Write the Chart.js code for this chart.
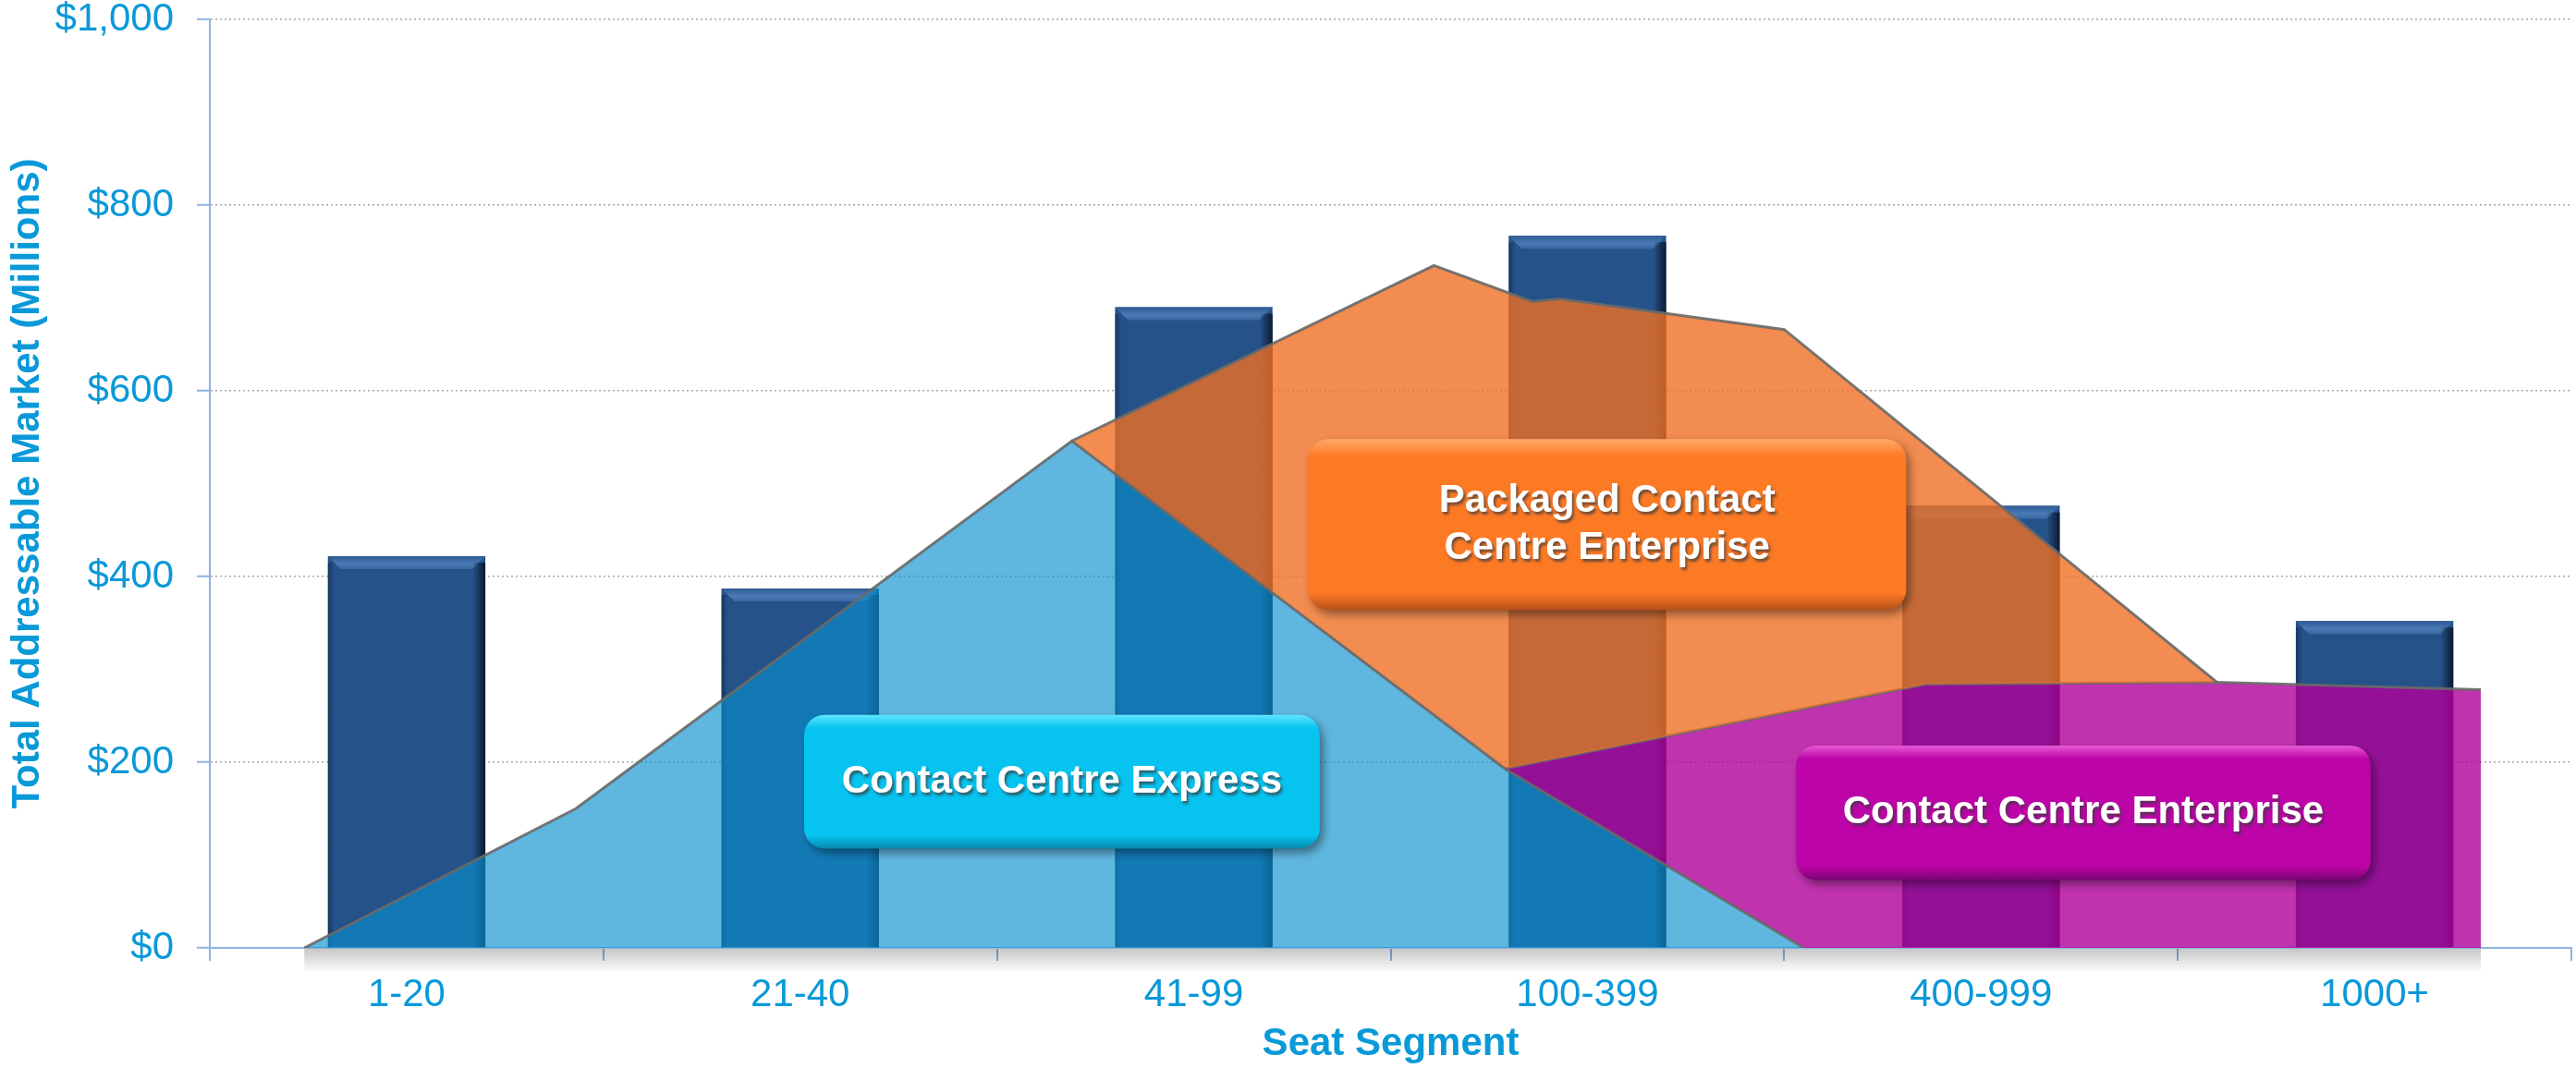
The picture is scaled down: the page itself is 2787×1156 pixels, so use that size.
<!DOCTYPE html>
<html>
<head>
<meta charset="utf-8">
<script src="https://cdn.jsdelivr.net/npm/chart.js@4.4.0/dist/chart.umd.min.js"></script>
<style>
  html, body { margin: 0; padding: 0; background: #fff; }
</style>
</head>
<body>
<canvas id="tam-chart" width="2787" height="1156"></canvas>
<script>
// Seat segments and total addressable market ($M)
const segments = ['1-20', '21-40', '41-99', '100-399', '400-999', '1000+'];
const marketValues = [422, 387, 690, 767, 476, 352];

// Product range outlines, x in segment units (0 = left edge, 6 = right edge), y in $M
const expressX = [0.24, 0.93, 2.19, 3.29, 4.05];
const expressY = [0, 150, 546, 193, 0];
const packagedTopX = [2.19, 3.11, 3.36, 3.43, 4.00, 5.10];
const packagedTopY = [546, 735, 696, 699, 666, 286];
const packagedBaseX = [2.19, 3.29, 4.36, 5.10];
const packagedBaseY = [546, 193, 284, 286];
const enterpriseTopX = [3.29, 4.36, 5.10, 5.77];
const enterpriseTopY = [193, 284, 286, 278];
const enterpriseBaseX = [3.29, 4.05, 5.77];
const enterpriseBaseY = [193, 0, 0];

// Range labels and where their boxes sit (segment units / $M)
const rangeLabels = [
    ['Contact Centre Express'],
    ['Packaged Contact', 'Centre Enterprise'],
    ['Contact Centre Enterprise']
];
const labelBoxX = [[1.51, 2.82], [2.79, 4.31], [4.03, 5.49]];
const labelBoxY = [[107, 251], [364, 548], [73, 218]];
const labelBoxColors = [
    { top: '#5FE4FF', base: '#06C3F0', bottom: '#0789AE' },
    { top: '#FFA869', base: '#FD7A25', bottom: '#B8511A' },
    { top: '#E85AD6', base: '#BC04A8', bottom: '#7A0570' }
];

const axisBlue = '#0A99D8';
const fontFamily = '"Liberation Sans", Arial, Helvetica, sans-serif';

function toPoints(xs, ys) {
    return xs.map((x, i) => ({ x: x, y: ys[i] }));
}

// Soft shadow under the shaded ranges, just below the x axis
const baseShadow = {
    id: 'baseShadow',
    beforeDatasetsDraw(chart) {
        const ctx = chart.ctx;
        const xs = chart.scales.x2;
        const y0 = chart.scales.y.getPixelForValue(0) + 1;
        const x0 = xs.getPixelForValue(expressX[0]);
        const x1 = xs.getPixelForValue(enterpriseBaseX[enterpriseBaseX.length - 1]);
        ctx.save();
        const g = ctx.createLinearGradient(0, y0, 0, y0 + 26);
        g.addColorStop(0, 'rgba(0,0,0,0.22)');
        g.addColorStop(1, 'rgba(0,0,0,0)');
        ctx.fillStyle = g;
        ctx.fillRect(x0, y0, x1 - x0, 26);
        ctx.restore();
    }
};

// Bevel on the bars: light top edge, dark right edge
const barBevel = {
    id: 'barBevel',
    afterDatasetDraw(chart, args) {
        if (args.index !== 0) return;
        const ctx = chart.ctx;
        chart.getDatasetMeta(0).data.forEach(bar => {
            const p = bar.getProps(['x', 'y', 'base', 'width'], true);
            const l = p.x - p.width / 2;
            const r = p.x + p.width / 2;
            const b = 14;
            ctx.save();
            const tg = ctx.createLinearGradient(0, p.y, 0, p.y + b);
            tg.addColorStop(0, '#2E5B93');
            tg.addColorStop(0.6, '#4A7AB5');
            tg.addColorStop(1, '#3A68A0');
            ctx.fillStyle = tg;
            ctx.beginPath();
            ctx.moveTo(l, p.y);
            ctx.lineTo(r, p.y);
            ctx.lineTo(r - b, p.y + b);
            ctx.lineTo(l + b, p.y + b);
            ctx.closePath();
            ctx.fill();
            const rg = ctx.createLinearGradient(r - 14, 0, r, 0);
            rg.addColorStop(0, 'rgba(8,20,38,0)');
            rg.addColorStop(1, 'rgba(8,20,38,0.9)');
            ctx.fillStyle = rg;
            ctx.fillRect(r - 14, p.y + b * 0.5, 14, p.base - p.y - b * 0.5);
            const lg = ctx.createLinearGradient(l, 0, l + 7, 0);
            lg.addColorStop(0, 'rgba(8,20,38,0.45)');
            lg.addColorStop(1, 'rgba(8,20,38,0)');
            ctx.fillStyle = lg;
            ctx.fillRect(l, p.y + b * 0.5, 7, p.base - p.y - b * 0.5);
            ctx.restore();
        });
    }
};

// Rounded label boxes placed through the chart scales
const rangeBoxes = {
    id: 'rangeBoxes',
    afterDatasetsDraw(chart) {
        const ctx = chart.ctx;
        const xs = chart.scales.x2;
        const ys = chart.scales.y;
        rangeLabels.forEach((lines, i) => {
            const x0 = xs.getPixelForValue(labelBoxX[i][0]);
            const x1 = xs.getPixelForValue(labelBoxX[i][1]);
            const y0 = ys.getPixelForValue(labelBoxY[i][1]);
            const y1 = ys.getPixelForValue(labelBoxY[i][0]);
            const c = labelBoxColors[i];
            ctx.save();
            ctx.shadowColor = 'rgba(0,0,0,0.4)';
            ctx.shadowBlur = 10;
            ctx.shadowOffsetX = 4;
            ctx.shadowOffsetY = 5;
            const g = ctx.createLinearGradient(0, y0, 0, y1);
            g.addColorStop(0, c.top);
            g.addColorStop(0.1, c.base);
            g.addColorStop(0.9, c.base);
            g.addColorStop(1, c.bottom);
            ctx.fillStyle = g;
            ctx.beginPath();
            ctx.roundRect(x0, y0, x1 - x0, y1 - y0, 22);
            ctx.fill();
            ctx.restore();

            ctx.save();
            ctx.font = 'bold 42px ' + fontFamily;
            ctx.textAlign = 'center';
            ctx.textBaseline = 'middle';
            ctx.fillStyle = '#FFFFFF';
            ctx.shadowColor = 'rgba(60,60,60,0.75)';
            ctx.shadowBlur = 3;
            ctx.shadowOffsetX = 2;
            ctx.shadowOffsetY = 3;
            const cx = (x0 + x1) / 2;
            const cy = (y0 + y1) / 2;
            const lh = 51;
            lines.forEach((t, k) => {
                ctx.fillText(t, cx, cy + (k - (lines.length - 1) / 2) * lh);
            });
            ctx.restore();
        });
    }
};

const outline = 'rgba(105,105,105,0.9)';

new Chart(document.getElementById('tam-chart'), {
    type: 'bar',
    data: {
        labels: segments,
        datasets: [
            {
                label: 'Total Addressable Market',
                data: marketValues,
                backgroundColor: '#26528A',
                borderWidth: 0,
                barPercentage: 0.4,
                categoryPercentage: 1,
                grouped: false,
                order: 10
            },
            {
                type: 'line',
                label: 'Contact Centre Express',
                xAxisID: 'x2',
                data: toPoints(expressX, expressY),
                backgroundColor: 'rgba(9,143,205,0.65)',
                borderColor: outline,
                borderWidth: 3,
                pointRadius: 0,
                tension: 0,
                fill: 'origin',
                order: 1
            },
            {
                type: 'line',
                label: 'packaged-base',
                xAxisID: 'x2',
                data: toPoints(packagedBaseX, packagedBaseY),
                borderWidth: 0,
                borderColor: 'rgba(0,0,0,0)',
                pointRadius: 0,
                tension: 0,
                fill: false,
                order: 2
            },
            {
                type: 'line',
                label: 'Packaged Contact Centre Enterprise',
                xAxisID: 'x2',
                data: toPoints(packagedTopX, packagedTopY),
                backgroundColor: 'rgba(239,111,36,0.8)',
                borderColor: outline,
                borderWidth: 3,
                pointRadius: 0,
                tension: 0,
                fill: '-1',
                order: 3
            },
            {
                type: 'line',
                label: 'enterprise-base',
                xAxisID: 'x2',
                data: toPoints(enterpriseBaseX, enterpriseBaseY),
                borderWidth: 0,
                borderColor: 'rgba(0,0,0,0)',
                pointRadius: 0,
                tension: 0,
                fill: false,
                order: 4
            },
            {
                type: 'line',
                label: 'Contact Centre Enterprise',
                xAxisID: 'x2',
                data: toPoints(enterpriseTopX, enterpriseTopY),
                backgroundColor: 'rgba(176,0,154,0.8)',
                borderColor: outline,
                borderWidth: 3,
                pointRadius: 0,
                tension: 0,
                fill: '-1',
                order: 5
            }
        ]
    },
    options: {
        responsive: false,
        animation: false,
        layout: { padding: { top: 0, right: 5, bottom: 0, left: 0 } },
        plugins: {
            legend: { display: false },
            tooltip: { enabled: false }
        },
        scales: {
            x: {
                type: 'category',
                grid: {
                    offset: true,
                    drawOnChartArea: false,
                    drawTicks: true,
                    tickLength: 14,
                    color: '#8DB4E2',
                    lineWidth: 2
                },
                border: { color: '#8DB4E2', width: 2 },
                ticks: {
                    color: axisBlue,
                    font: { family: fontFamily, size: 42 },
                    padding: 12,
                    maxRotation: 0
                },
                title: {
                    display: true,
                    text: 'Seat Segment',
                    color: axisBlue,
                    font: { family: fontFamily, size: 42, weight: 'bold' },
                    padding: { top: 6, bottom: 0 }
                },
                afterFit: s => { s.height = 130; }
            },
            x2: {
                type: 'linear',
                min: 0,
                max: 6,
                offset: false,
                display: false
            },
            y: {
                min: 0,
                max: 1000,
                ticks: {
                    stepSize: 200,
                    color: axisBlue,
                    font: { family: fontFamily, size: 42, lineHeight: 1 },
                    padding: 25,
                    callback: v => '$' + v.toLocaleString('en-US')
                },
                grid: {
                    color: '#A8A8A8',
                    lineWidth: 1.5,
                    tickColor: '#8DB4E2',
                    tickLength: 14,
                    tickWidth: 2
                },
                border: { color: '#8DB4E2', width: 2, dash: [2, 3] },
                title: {
                    display: true,
                    text: 'Total Addressable Market (Millions)',
                    color: axisBlue,
                    font: { family: fontFamily, size: 42, weight: 'bold' },
                    padding: { top: 5, bottom: 0 }
                },
                afterFit: s => {
                    s.width = 227;
                    s.paddingTop = 21;
                    s.paddingBottom = 0;
                }
            }
        }
    },
    plugins: [baseShadow, barBevel, rangeBoxes]
});
</script>
</body>
</html>
